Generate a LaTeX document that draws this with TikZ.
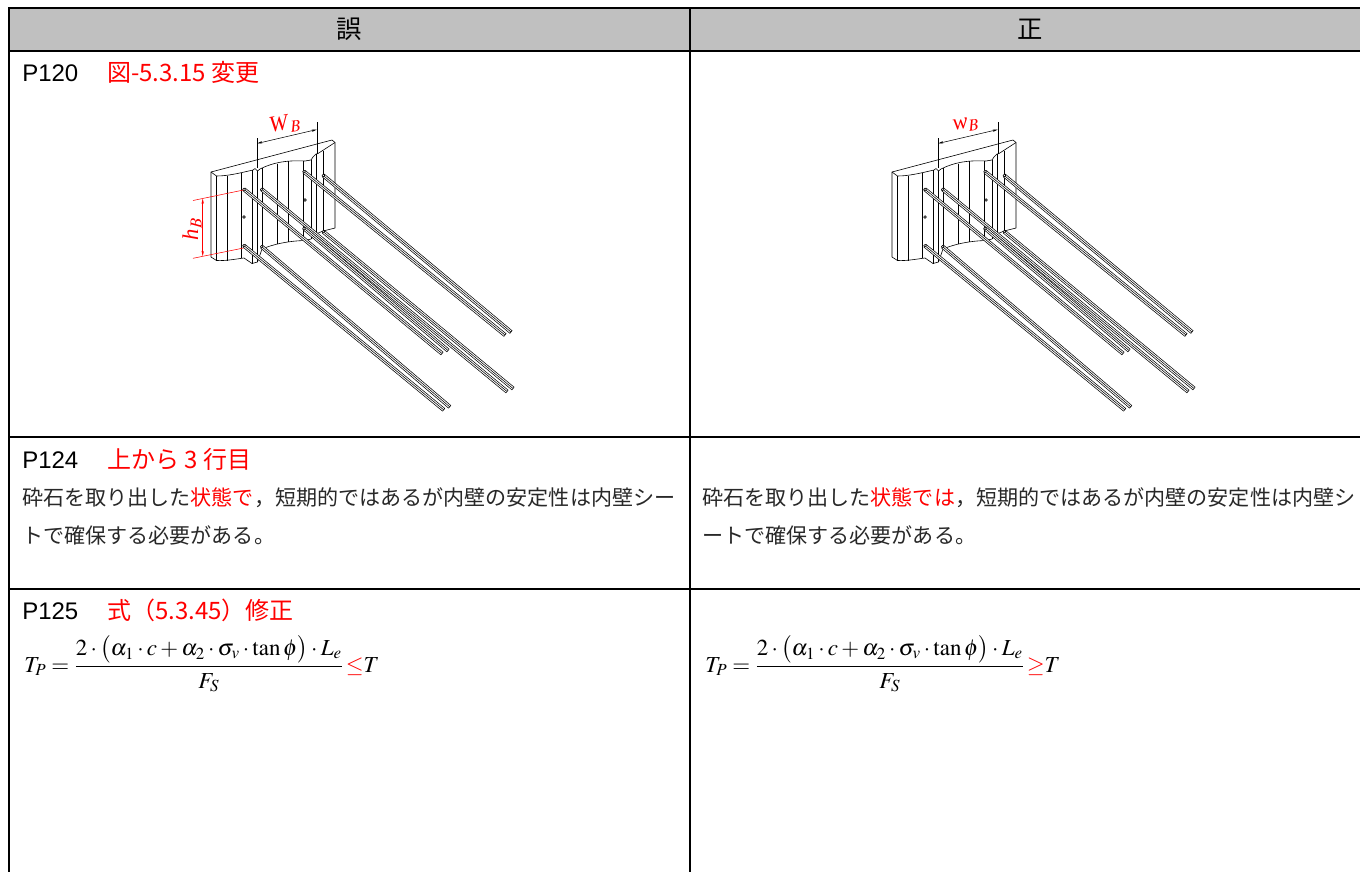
\documentclass[tikz,border=0pt]{standalone}
\usepackage{mathptmx}
\usepackage{fontspec}
\setmainfont{Liberation Serif}
\newfontfamily\jpgothic{Noto Sans CJK JP}
\newfontfamily\arialfont{Liberation Sans}
\usetikzlibrary{calc, arrows.meta}
\definecolor{headgray}{RGB}{192,192,192}
\definecolor{bodygray}{RGB}{40,40,40}

\newcommand\tiestrip[2]{%
  \filldraw [rod] ($#1!1.3pt!90:#2$) -- ($#2!1.3pt!-90:#1$) -- ($#2!1.3pt!90:#1$) -- ($#1!1.3pt!-90:#2$) -- cycle;
  \draw [rod] #1 -- #2;
  \filldraw [rod] #1 circle [radius=1pt];
}

\begin{document}
\begin{tikzpicture}[x=0.75pt, y=-0.75pt, every node/.style={inner sep=0pt}]
\tikzset{
  tableline/.style={line width=1.5pt},
  hdr/.style={font=\jpgothic\fontsize{19pt}{22pt}\selectfont},
  pageno/.style={font=\arialfont\fontsize{18pt}{22pt}\selectfont, anchor=base west},
  fixnote/.style={font=\jpgothic\fontsize{18pt}{22pt}\selectfont, text=red, anchor=base west},
  bodytext/.style={font=\jpgothic\fontsize{15.8pt}{19pt}\selectfont, text=bodygray, anchor=base west},
  formula/.style={font=\fontsize{17.2pt}{21pt}\selectfont, anchor=base west},
  wall/.style={line width=0.45pt, line join=round},
  rod/.style={line width=0.4pt, fill=white, line join=round},
  dimline/.style={line width=0.4pt, >={Stealth[length=4pt, width=1.8pt]}},
  dimred/.style={dimline, draw=red},
  dimlabel/.style={font=\fontsize{17pt}{19pt}\selectfont, text=red},
  wallpic/.pic={
    \draw [wall] (211,257) -- (211,172) -- (332,140) -- (335,142.5) -- (335,228);
    \draw [wall] (211,172) -- (216.5,176);
    \draw [wall] (216.5,176) .. controls (228,176) and (240,173) .. (253,170) -- (255,168.5) -- (257.5,171) -- (260,169)
                 .. controls (272,163) and (285,160) .. (305,161) -- (311,160) -- (313,157) -- (316,154) -- (318,153.5) -- (335,142.5);
    \draw [wall] (211,257) -- (216.5,260.5) .. controls (226,261) and (236,259) .. (244,258) -- (252,263.5) -- (257.5,262) -- (262,249)
                 .. controls (274,244) and (288,241) .. (305,240.5) -- (311,239) -- (316,234) -- (323,231) -- (335,228);
    \foreach \x/\ya/\yb in {216.5/176/260.5, 227/175.7/260.5, 241/172.9/258.4, 252/170.2/263.5, 257.5/171/262,
                            262/168/249, 277/163.5/244.3, 288/161/242.3, 303/161/240.6, 311/160/239,
                            316/154/234, 323/150.5/231}
      \draw [wall] (\x,\ya) -- (\x,\yb);
    % bolt holes
    \draw [wall] (244,217) circle [radius=1pt];
    \draw [wall] (305,200) circle [radius=1pt];
    % ties
    \tiestrip{(304,171.7)}{(505,335)}
    \tiestrip{(323.3,175.5)}{(511,332)}
    \tiestrip{(261.7,189.3)}{(507,391.5)}
    \tiestrip{(323.3,231.7)}{(513,388.5)}
    \tiestrip{(244,189.3)}{(442,353.5)}
    \tiestrip{(304,228.3)}{(448,350.5)}
    \tiestrip{(244,245.7)}{(443.7,409.8)}
    \tiestrip{(261.7,246.7)}{(449.7,406.8)}
  }
}
\useasboundingbox (0,0) rectangle (1360,871);
\clip (0,0) rectangle (1360,871);
\fill [white] (0,0) rectangle (1360,871);

% table
\fill [headgray] (8.5,7.5) rectangle (1370,50.5);
\draw [tableline] (1370,7.5) -- (8.5,7.5) -- (8.5,880);
\draw [tableline] (690,7.5) -- (690,880);
\foreach \y in {50.5, 436.5, 588.5}
  \draw [tableline] (8.5,\y) -- (1370,\y);

\node [hdr] (wrong) at (349,29) {誤};
\node [hdr] (right) at (1030,29) {正};

% row 1
\node [pageno] (p120) at (22,81.7) {P120};
\node [fixnote] (fig120) at (107,81.7) {図-5.3.15 変更};
\pic at (0,0) {wallpic};
\pic at (681,0) {wallpic};
\draw [dimline] (257,168) -- (257,138);
\draw [dimline] (317,154) -- (317,122);
\draw [dimline, <->] (257,143.5) -- (317,129.5);
\node [dimlabel, rotate=10] (wbold) at (285,124) {\textit{W}$_B$};
\draw [dimred] (193,200.5) -- (243.5,190);
\draw [dimred] (193,258.3) -- (243.5,248);
\draw [dimred, <->] (202.7,198.5) -- (202.7,256.2);
\node [dimlabel, rotate=90] (hbold) at (192,229) {\textit{h}$_B$};
\draw [dimline] (938,168) -- (938,138);
\draw [dimline] (998,154) -- (998,122);
\draw [dimline, <->] (938,143.5) -- (998,129.5);
\node [dimlabel, rotate=10] (wbnew) at (966,125) {\textit{w}$_B$};

% row 2
\node [pageno] (p124) at (22,468.5) {P124};
\node [fixnote] (line124) at (107,468.5) {上から 3 行目};
\node [bodytext] (oldtxta) at (22,505) {砕石を取り出した\textcolor{red}{状態で}，短期的ではあるが内壁の安定性は内壁シー};
\node [bodytext] (oldtxtb) at (22,543) {トで確保する必要がある。};
\node [bodytext] (newtxta) at (702,505) {砕石を取り出した\textcolor{red}{状態では}，短期的ではあるが内壁の安定性は内壁シ};
\node [bodytext] (newtxtb) at (702,543) {ートで確保する必要がある。};

% row 3
\node [pageno] (p125) at (22,619.3) {P125};
\node [fixnote] (eq125) at (107,619.3) {式（5.3.45）修正};
\node [formula] (oldeq) at (24,672.5) {$\displaystyle T_P=\frac{2\cdot\bigl(\alpha_1\cdot c+\alpha_2\cdot\sigma_v\cdot\tan\phi\bigr)\cdot L_e}{F_S}\,\textcolor{red}{\leq}T$};
\node [formula] (neweq) at (705,672.5) {$\displaystyle T_P=\frac{2\cdot\bigl(\alpha_1\cdot c+\alpha_2\cdot\sigma_v\cdot\tan\phi\bigr)\cdot L_e}{F_S}\,\textcolor{red}{\geq}T$};
\end{tikzpicture}
\end{document}
